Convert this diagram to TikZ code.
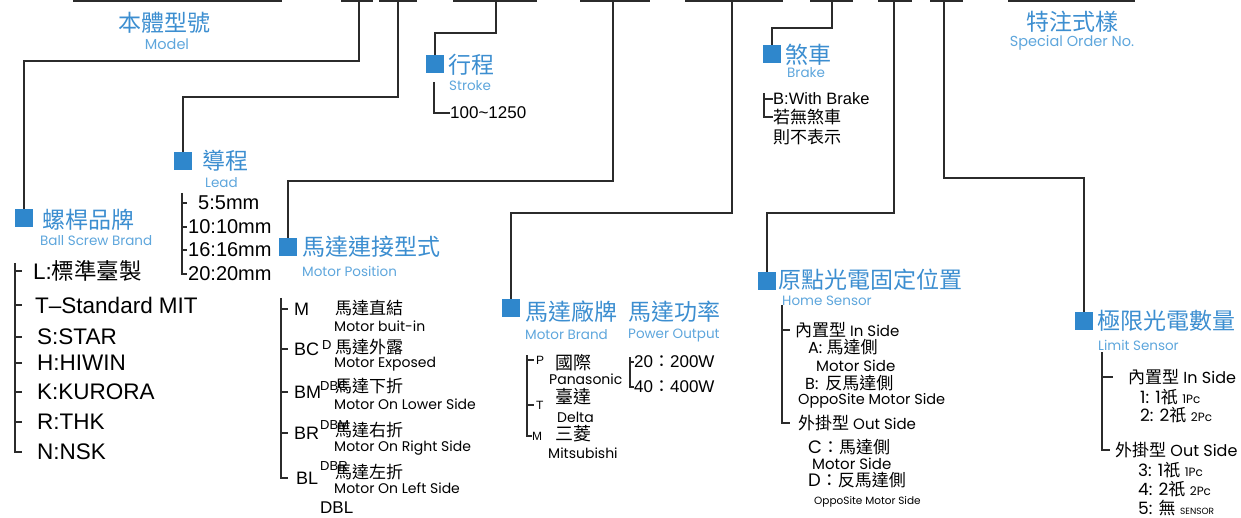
\documentclass[tikz,border=0pt]{standalone}
\usepackage{fontspec}
\setmainfont{Liberation Sans}
\newfontfamily\cjk{Noto Sans CJK TC}
\newfontfamily\goth{Poppins}
\definecolor{lc}{HTML}{2B2B2B}
\definecolor{bluet}{HTML}{3C8ED0}
\definecolor{bluesub}{HTML}{5EA6DC}
\definecolor{boxc}{HTML}{2F87CC}
\newcommand\fsz[1]{\fontsize{#1}{#1}\selectfont}
\begin{document}
\begin{tikzpicture}[x=1pt,y=-1pt,
  ln/.style={draw=lc,line width=1.5pt},
  topln/.style={draw=lc,line width=2pt},
  sq/.style={fill=boxc,minimum size=18pt,inner sep=0pt},
  ttl/.style={anchor=west,inner sep=0pt,text=bluet,font=\cjk\fsz{23pt}},
  sub/.style={anchor=west,inner sep=0pt,text=bluesub,font=\goth\fsz{13.5pt}},
  it/.style={anchor=west,inner sep=0pt,text=black},
  big/.style={it,font=\fsz{22.5pt}},
  mid/.style={it,font=\fsz{18pt}},
  cj/.style={it,font=\cjk\fsz{17pt}},
  gt/.style={it,font=\goth\fsz{14pt}},
]
\useasboundingbox (0,0) rectangle (1241,518);
% ---------- top code segments ----------
\foreach \a/\b in {73/282,341/373,379/417,453/537,580/650,685/783,810/853,878/912,930/963,1008/1135}
  \draw[topln] (\a,1) -- (\b,1);
\coordinate (t2) at (359,1);
\coordinate (t3) at (398,1);
\coordinate (t4) at (496,1);
\coordinate (t5) at (613,1);
\coordinate (t6) at (732,1);
\coordinate (t7) at (832,1);
\coordinate (t8) at (894,1);
\coordinate (t9) at (944,1);
% ---------- model / special ----------
\node[inner sep=0pt,text=bluet,font=\cjk\fsz{23pt}] (model) at (164,23) {本體型號};
\node[inner sep=0pt,text=bluesub,font=\goth\fsz{14.5pt}] (modelE) at (167,44) {Model};
\node[inner sep=0pt,text=bluet,font=\cjk\fsz{23pt}] (spec) at (1072,22) {特注式樣};
\node[inner sep=0pt,text=bluesub,font=\goth\fsz{14.5pt}] (specE) at (1072,43) {Special Order No.};
% ---------- boxes ----------
\node[sq] (b1) at (24,218) {};
\node[sq] (b2) at (183,161) {};
\node[sq] (b3) at (435,64) {};
\node[sq] (b4) at (288,247) {};
\node[sq] (b5) at (511,308) {};
\node[sq] (b6) at (772,54) {};
\node[sq] (b7) at (767,281) {};
\node[sq] (b8) at (1084,321) {};
% ---------- connectors ----------
\draw[ln] (t2) -- ++(0,60) -| (b1.north);
\draw[ln] (t3) -- ++(0,96) -| (b2.north);
\draw[ln] (t4) -- ++(0,32) -| (b3.north);
\draw[ln] (t5) -- ++(0,180) -| (b4.north);
\draw[ln] (t6) -- ++(0,212) -| (b5.north);
\draw[ln] (t7) -- ++(0,27) -| (b6.north);
\draw[ln] (t8) -- ++(0,212) -| (b7.north);
\draw[ln] (t9) -- ++(0,177) -| (b8.north);
% ---------- ball screw brand ----------
\node[ttl] (h1) at (42,220) {螺桿品牌};
\node[sub] (h1e) at (40,241) {Ball Screw Brand};
\node[big] (L1) at (33,271) {L:{\cjk 標準臺製}};
\node[big] (L2) at (35,305) {T–Standard MIT};
\node[big] (L3) at (37,337) {S:STAR};
\node[big] (L4) at (37,363) {H:HIWIN};
\node[big] (L5) at (37,392) {K:KURORA};
\node[big] (L6) at (37,422) {R:THK};
\node[big] (L7) at (37,452) {N:NSK};
\coordinate (k1) at (15,263);
\draw[ln] (k1) -- (k1 |- L7.west) -- ++(7,0);
\foreach \i in {1,...,6} \draw[ln] (k1 |- L\i.west) -- ++(7,0);
% ---------- lead ----------
\node[ttl] (h2) at (202,161) {導程};
\node[sub] (h2e) at (205,183) {Lead};
\node[it,font=\fsz{20pt}] (D1) at (198,203) {5:5mm};
\node[it,font=\fsz{20pt}] (D2) at (188,227) {10:10mm};
\node[it,font=\fsz{20pt}] (D3) at (188,250) {16:16mm};
\node[it,font=\fsz{20pt}] (D4) at (188,274) {20:20mm};
\coordinate (k2) at (182,193);
\draw[ln] (k2) -- (k2 |- D4.west) -- ++(5,0);
\foreach \i in {1,2,3} \draw[ln] (k2 |- D\i.west) -- ++(5,0);
% ---------- stroke ----------
\node[ttl] (h3) at (448,65) {行程};
\node[sub] (h3e) at (449,86) {Stroke};
\node[it,font=\fsz{17pt}] (S1) at (450,113) {100\textasciitilde1250};
\coordinate (k3) at (434,82);
\draw[ln] (k3) |- (S1.west);
% ---------- motor position ----------
\node[ttl] (h4) at (302,247) {馬達連接型式};
\node[sub] (h4e) at (302,271) {Motor Position};
\node[mid] (P1) at (294,309) {M};
\node[mid] (P2) at (294,349) {BC};
\node[mid] (P3) at (294,392) {BM};
\node[mid] (P4) at (294,433) {BR};
\node[mid] (P5) at (296,478) {BL};
\node[it,font=\fsz{13pt}] (Q2) at (322,345) {D};
\node[it,font=\fsz{13pt}] (Q3) at (320,386) {DBC};
\node[it,font=\fsz{13pt}] (Q4) at (320,425) {DBM};
\node[it,font=\fsz{13pt}] (Q5) at (320,466) {DBR};
\node[it,font=\fsz{17pt}] (Q6) at (320,508) {DBL};
\node[cj] (C1) at (335,308) {馬達直結};
\node[cj] (C2) at (335,347) {馬達外露};
\node[cj] (C3) at (335,386) {馬達下折};
\node[cj] (C4) at (335,430) {馬達右折};
\node[cj] (C5) at (335,472) {馬達左折};
\node[gt] (E1) at (334,326) {Motor buit-in};
\node[gt] (E2) at (334,364) {Motor Exposed};
\node[gt] (E3) at (334,404) {Motor On Lower Side};
\node[gt] (E4) at (334,448) {Motor On Right Side};
\node[gt] (E5) at (334,488) {Motor On Left Side};
\coordinate (k4) at (281,298);
\draw[ln] (k4) -- (k4 |- P5.west) -- ++(7,0);
\foreach \i in {1,...,4} \draw[ln] (k4 |- P\i.west) -- ++(7,0);
% ---------- motor brand / power ----------
\node[ttl] (h5) at (525,312) {馬達廠牌};
\node[sub] (h5e) at (525,335) {Motor Brand};
\node[ttl] (h6) at (628,312) {馬達功率};
\node[sub] (h6e) at (628,335) {Power Output};
\node[it,font=\fsz{12pt}] (M1) at (536,360) {P};
\node[it,font=\fsz{12pt}] (M2) at (536,405) {T};
\node[it,font=\fsz{12pt}] (M3) at (532,436) {M};
\node[it,font=\cjk\fsz{18pt}] (N1) at (555,363) {國際};
\node[it,font=\cjk\fsz{18pt}] (N2) at (555,397) {臺達};
\node[it,font=\cjk\fsz{18pt}] (N3) at (555,434) {三菱};
\node[gt] (O1) at (549,379) {Panasonic};
\node[gt] (O2) at (557,417) {Delta};
\node[gt] (O3) at (548,453) {Mitsubishi};
\coordinate (k5) at (527,355);
\draw[ln] (k5) -- (k5 |- M3.west) -- ++(5,0);
\foreach \i in {1,2} \draw[ln] (k5 |- M\i.west) -- ++(7,0);
\node[it,font=\fsz{17pt}] (W1) at (634,362) {20{\cjk ：}200W};
\node[it,font=\fsz{17pt}] (W2) at (634,387) {40{\cjk ：}400W};
\coordinate (k6) at (630,357);
\draw[ln] (k6) -- (k6 |- W2.west) -- (W2.west);
\draw[ln] (k6 |- W1.west) -- (W1.west);
% ---------- brake ----------
\node[ttl] (h7) at (785,55) {煞車};
\node[sub] (h7e) at (787,73) {Brake};
\node[it,font=\fsz{16.5pt}] (B1) at (773,99) {B:With Brake};
\node[it,font=\cjk\fsz{17pt}] (B2) at (773,117) {若無煞車};
\node[it,font=\cjk\fsz{17pt}] (B3) at (773,137) {則不表示};
\coordinate (k7) at (764,93);
\draw[ln] (k7) -- (k7 |- B2.west) -- (B2.west);
\draw[ln] (k7 |- B1.west) -- (B1.west);
% ---------- home sensor ----------
\node[ttl] (h8) at (778,280) {原點光電固定位置};
\node[sub] (h8e) at (782,301) {Home Sensor};
\node[it,font=\goth\fsz{15pt}] (H1) at (795,330) {{\cjk\fsz{17pt}內置型} In Side};
\node[it,font=\goth\fsz{16pt}] (H2) at (808,347) {A: {\cjk\fsz{17pt}馬達側}};
\node[it,font=\goth\fsz{15pt}] (H3) at (816,366) {Motor Side};
\node[it,font=\goth\fsz{16pt}] (H4) at (805,383) {B: \,{\cjk\fsz{17pt}反馬達側}};
\node[it,font=\goth\fsz{14.5pt}] (H5) at (798,401) {OppoSite Motor Side};
\node[it,font=\goth\fsz{15pt}] (H6) at (798,423) {{\cjk\fsz{17pt}外掛型} Out Side};
\node[it,font=\goth\fsz{18pt}] (H7) at (808,447) {C{\cjk\fsz{17pt}：馬達側}};
\node[it,font=\goth\fsz{15pt}] (H8) at (812,464) {Motor Side};
\node[it,font=\goth\fsz{18pt}] (H9) at (808,480) {D{\cjk\fsz{17pt}：反馬達側}};
\node[it,font=\goth\fsz{10.5pt}] (H10) at (814,502) {OppoSite Motor Side};
\coordinate (k8) at (782,305);
\draw[ln] (k8) -- (k8 |- H6.west) -- ++(8,0);
\draw[ln] (k8 |- H1.west) -- ++(8,0);
% ---------- limit sensor ----------
\node[ttl] (h9) at (1097,321) {極限光電數量};
\node[sub] (h9e) at (1098,345) {Limit Sensor};
\node[it,font=\goth\fsz{16pt}] (G1) at (1128,377) {{\cjk\fsz{17pt}內置型} In Side};
\node[it,font=\goth\fsz{17pt}] (G2) at (1140,397) {1: 1{\cjk\fsz{17pt}祇} {\fsz{12pt}1Pc}};
\node[it,font=\goth\fsz{17pt}] (G3) at (1140,415) {2: 2{\cjk\fsz{17pt}祇} {\fsz{12pt}2Pc}};
\node[it,font=\goth\fsz{16pt}] (G4) at (1115,450) {{\cjk\fsz{17pt}外掛型} Out Side};
\node[it,font=\goth\fsz{17pt}] (G5) at (1138,470) {3: 1{\cjk\fsz{17pt}祇} {\fsz{12pt}1Pc}};
\node[it,font=\goth\fsz{17pt}] (G6) at (1138,489) {4: 2{\cjk\fsz{17pt}祇} {\fsz{12pt}2Pc}};
\node[it,font=\goth\fsz{17pt}] (G7) at (1138,508) {5: {\cjk\fsz{17pt}無} {\fsz{9pt}SENSOR}};
\coordinate (k9) at (1102,352);
\draw[ln] (k9) -- (k9 |- G4.west) -- ++(8,0);
\draw[ln] (k9 |- G1.west) -- ++(11,0);
\end{tikzpicture}
\end{document}
